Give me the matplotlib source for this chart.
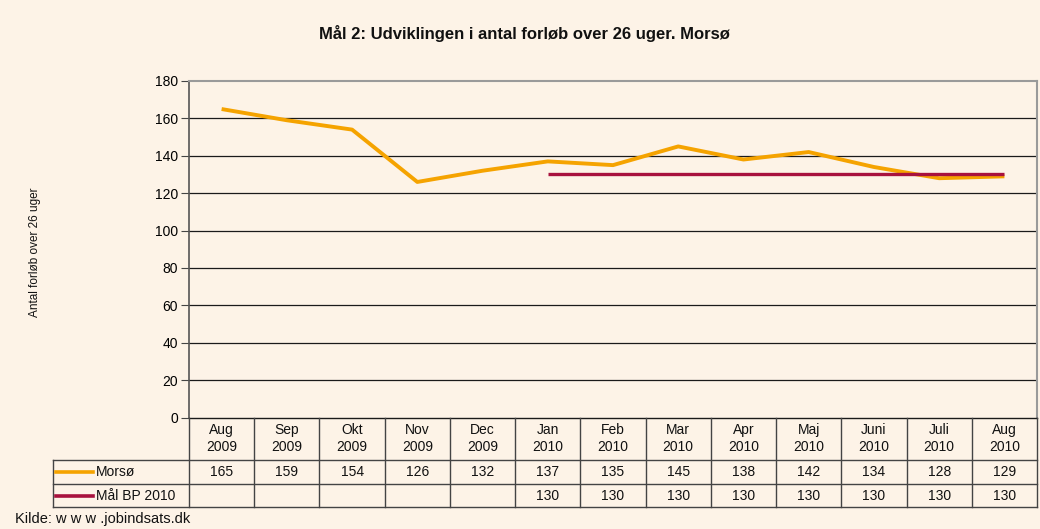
import matplotlib
matplotlib.use("Agg")
import matplotlib.pyplot as plt
from matplotlib.lines import Line2D

plt.rcParams['font.family'] = ['Liberation Sans', 'DejaVu Sans']

# ---- data ----
months = ['Aug\n2009', 'Sep\n2009', 'Okt\n2009', 'Nov\n2009', 'Dec\n2009',
          'Jan\n2010', 'Feb\n2010', 'Mar\n2010', 'Apr\n2010', 'Maj\n2010',
          'Juni\n2010', 'Juli\n2010', 'Aug\n2010']
morso = [165, 159, 154, 126, 132, 137, 135, 145, 138, 142, 134, 128, 129]
maal = [None, None, None, None, None, 130, 130, 130, 130, 130, 130, 130, 130]
series_names = ['Morsø', 'Mål BP 2010']
yticks = [0, 20, 40, 60, 80, 100, 120, 140, 160, 180]
title = 'Mål 2: Udviklingen i antal forløb over 26 uger. Morsø'
ylabel = 'Antal forløb over 26 uger'
source = 'Kilde: w w w .jobindsats.dk'

# ---- style ----
bg = '#FDF3E7'
c_morso = '#F5A300'
c_maal = '#A8123E'
W, H = 1040, 529

fig = plt.figure(figsize=(W / 100, H / 100), dpi=100, facecolor=bg)

# plot area in pixel bounds
pl, pr, pt, pb = 189, 1037, 81, 417.5
ax = fig.add_axes([pl / W, (H - pb) / H, (pr - pl) / W, (pb - pt) / H])
ax.set_facecolor(bg)
n = len(months)
xs = list(range(n))
ax.set_xlim(-0.5, n - 0.5)
ax.set_ylim(0, 180)
ax.set_yticks(yticks)
ax.tick_params(axis='y', labelsize=10, length=6, width=0.8, color='#444444', pad=2)
ax.set_xticks([])
for v in yticks[1:-1]:
    ax.axhline(v, color='#1a1a1a', lw=0.9, zorder=1)
for s in ['top', 'right']:
    ax.spines[s].set_color('#9a9a9a')
    ax.spines[s].set_linewidth(1.5)
ax.spines['left'].set_color('#555555')
ax.spines['left'].set_linewidth(1.2)
ax.spines['bottom'].set_color('#1a1a1a')
ax.spines['bottom'].set_linewidth(1.0)

ax.plot(xs, morso, color=c_morso, lw=2.8, solid_capstyle='butt', zorder=3)
mx = [x for x, v in zip(xs, maal) if v is not None]
my = [v for v in maal if v is not None]
ax.plot(mx, my, color=c_maal, lw=2.4, solid_capstyle='butt', zorder=4)

# ---- data table ----
tl, tb = 53, 507
colw = (pr - pl) / n
tax = fig.add_axes([tl / W, (H - tb) / H, (pr - tl) / W, (tb - pb) / H])
tax.set_xlim(-0.5 - (pl - tl) / colw, n - 0.5)
tax.set_ylim(0, tb - pb)
tax.axis('off')
tax.patch.set_alpha(0)
x0 = -0.5 - (pl - tl) / colw
r1, r2, top = 23, 47, tb - pb
lc = '#444444'
lw = 1.0
tax.plot([x0, n - 0.5], [0, 0], color=lc, lw=lw, clip_on=False)
tax.plot([x0, n - 0.5], [r1, r1], color=lc, lw=lw, clip_on=False)
tax.plot([x0, n - 0.5], [r2, r2], color=lc, lw=lw, clip_on=False)
tax.plot([x0, x0], [0, r2], color=lc, lw=lw, clip_on=False)
for i in range(n + 1):
    tax.plot([i - 0.5, i - 0.5], [0, top], color=lc, lw=lw, clip_on=False)

fs = 10
for i, m in enumerate(months):
    tax.text(i, (r2 + top) / 2, m, ha='center', va='center', fontsize=fs,
             linespacing=1.3, color='#111111')
    tax.text(i, (r1 + r2) / 2, str(morso[i]), ha='center', va='center',
             fontsize=fs, color='#111111')
    if maal[i] is not None:
        tax.text(i, r1 / 2, str(maal[i]), ha='center', va='center',
                 fontsize=fs, color='#111111')

# legend keys in table
kx0 = x0 + 3 / colw
kx1 = x0 + 40 / colw
tx = x0 + 43 / colw
for yy, col, name in [((r1 + r2) / 2, c_morso, series_names[0]),
                      (r1 / 2, c_maal, series_names[1])]:
    tax.add_line(Line2D([kx0, kx1], [yy, yy], color=col, lw=2.6, clip_on=False))
    tax.text(tx, yy, name, ha='left', va='center', fontsize=fs, color='#111111')

# ---- texts ----
fig.text(524 / W, 1 - 33 / H, title, ha='center', va='center',
         fontsize=12, fontweight='bold', color='#111111')
fig.text(35 / W, 1 - 252 / H, ylabel, rotation=90, ha='center', va='center',
         fontsize=8.5, color='#111111')
fig.text(15 / W, 1 - 519 / H, source, ha='left', va='center',
         fontsize=10.5, color='#111111')

fig.savefig('out.png', dpi=100, facecolor=bg)
